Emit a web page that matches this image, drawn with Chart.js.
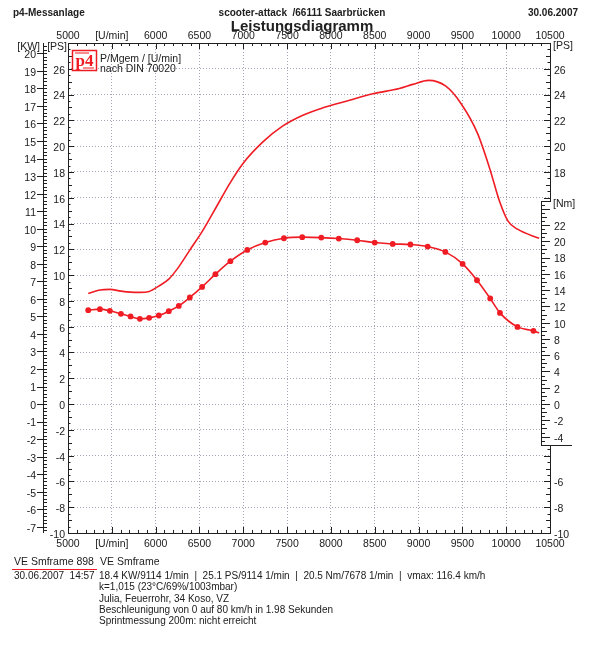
<!DOCTYPE html>
<html>
<head>
<meta charset="utf-8">
<script src="https://cdn.jsdelivr.net/npm/chart.js@4.4.1/dist/chart.umd.min.js"></script>
<style>
  html, body { margin: 0; padding: 0; background: #fff; }
  canvas { display: block; }
</style>
</head>
<body>
<canvas id="chart" width="596" height="656"></canvas>
<script>
// measured run: torque points carry markers, power is a plain line
const torqueRpm = [5231, 5364, 5478, 5604, 5714, 5820, 5926, 6036, 6150, 6264, 6390, 6530, 6682, 6853, 7046, 7251, 7464, 7673, 7890, 8090, 8300, 8500, 8705, 8907, 9104, 9306, 9503, 9667, 9818, 9929, 10129, 10311, 10376];
const torqueNm = [11.53, 11.66, 11.45, 11.08, 10.76, 10.47, 10.59, 10.88, 11.41, 12.06, 13.09, 14.39, 15.95, 17.55, 18.93, 19.84, 20.37, 20.5, 20.45, 20.33, 20.12, 19.84, 19.67, 19.6, 19.35, 18.69, 17.21, 15.21, 12.97, 11.2, 9.48, 8.99, 8.75];

const powerRpm = [5231, 5364, 5478, 5604, 5714, 5820, 5926, 6036, 6150, 6264, 6390, 6541, 6694, 6845, 6997, 7224, 7452, 7680, 7908, 8212, 8477, 8781, 8933, 9114, 9311, 9484, 9673, 9818, 9920, 10021, 10129, 10376];
const powerPs = [8.58, 8.84, 8.89, 8.76, 8.68, 8.66, 8.73, 9.15, 9.69, 10.64, 11.94, 13.49, 15.3, 17.1, 18.66, 20.33, 21.57, 22.4, 22.97, 23.56, 24.06, 24.47, 24.79, 25.1, 24.65, 23.31, 20.99, 18.14, 15.81, 14.19, 13.56, 12.85];

const rpmTickValues = [5000, 5500, 6000, 6500, 7000, 7500, 8000, 8500, 9000, 9500, 10000, 10500];
const rpmTickLabels = ['5000', '[U/min]', '6000', '6500', '7000', '7500', '8000', '8500', '9000', '9500', '10000', '10500'];
const psLeftLabels = [-10, -8, -6, -4, -2, 0, 2, 4, 6, 8, 10, 12, 14, 16, 18, 20, 22, 24, 26];
const psRightLabels = [-10, -8, -6, 18, 20, 22, 24, 26];
const kwLabels = [-7, -6, -5, -4, -3, -2, -1, 0, 1, 2, 3, 4, 5, 6, 7, 8, 9, 10, 11, 12, 13, 14, 15, 16, 17, 18, 19, 20];
const nmLabels = [-4, -2, 0, 2, 4, 6, 8, 10, 12, 14, 16, 18, 20, 22];

const infoLines = [
  '18.4 KW/9114 1/min  |  25.1 PS/9114 1/min  |  20.5 Nm/7678 1/min  |  vmax: 116.4 km/h',
  'k=1,015 (23°C/69%/1003mbar)',
  'Julia, Feuerrohr, 34 Koso, VZ',
  'Beschleunigung von 0 auf 80 km/h in 1.98 Sekunden',
  'Sprintmessung 200m: nicht erreicht'
];

const PS_MIN = -10, PS_MAX = 28;
const PS_PER_KW = 1.36;
const NM_PER_PS = 1.584;  // Nm scale is stretched against the PS scale
const RED = '#f01c24';
const INK = '#202020';
const FONT = 'Arial, "Liberation Sans", sans-serif';

function f(size, bold) {
  return (bold ? 'bold ' : '') + size + 'px ' + FONT;
}

const sn = v => Math.round(v) + 0.5;

const axesPlugin = {
  id: 'axesPlugin',
  afterDatasetsDraw(chart) {
    const ctx = chart.ctx;
    const a = chart.chartArea;
    const x = chart.scales.x, ps = chart.scales.ps, kw = chart.scales.kw, nm = chart.scales.nm;
    const L = Math.round(a.left), R = Math.round(a.right), T = Math.round(a.top), B = Math.round(a.bottom);

    ctx.save();
    ctx.strokeStyle = INK;
    ctx.fillStyle = INK;
    ctx.lineWidth = 1;
    const line = (x1, y1, x2, y2) => {
      ctx.beginPath(); ctx.moveTo(x1, y1); ctx.lineTo(x2, y2); ctx.stroke();
    };
    const text = (s, px, py, align, font, base) => {
      ctx.font = font;
      ctx.textAlign = align;
      ctx.textBaseline = base || 'alphabetic';
      ctx.fillText(s, px, py);
    };

    // frame
    ctx.strokeRect(L + 0.5, T + 0.5, R - L, B - T);

    // rpm ticks top and bottom
    for (let r = 5000; r <= 10500; r += 100) {
      const px = sn(x.getPixelForValue(r));
      const len = r % 500 === 0 ? 6 : 3;
      line(px, T, px, T + len);
      line(px, B, px, B - len);
    }
    rpmTickValues.forEach((v, i) => {
      const px = x.getPixelForValue(v);
      text(rpmTickLabels[i], px, 39, 'center', f(10.5));
      text(rpmTickLabels[i], px, 547, 'center', f(10.5));
    });

    // left PS axis
    for (let i = PS_MIN * 2; i <= PS_MAX * 2; i++) {
      const v = i / 2;
      const py = sn(ps.getPixelForValue(v));
      const len = v % 2 === 0 ? 6 : (Number.isInteger(v) ? 4 : 2.5);
      line(L, py, L + len, py);
    }
    psLeftLabels.forEach(v => {
      text(String(v), L - 3, ps.getPixelForValue(v) + 2, 'right', f(10.5), 'middle');
    });
    text('[PS]', L - 1, 47, 'right', f(10.5), 'middle');

    // KW axis
    const kx = 43;
    line(kx + 0.5, T, kx + 0.5, B);
    for (let i = Math.ceil(kw.min * 5); i <= Math.floor(kw.max * 5); i++) {
      const py = sn(kw.getPixelForValue(i / 5));
      line(kx, py, kx + 4, py);
      if (i % 5 === 0) line(kx - 6, py, kx, py);
    }
    kwLabels.forEach(v => {
      text(String(v), kx - 7, kw.getPixelForValue(v) + 2, 'right', f(10.5), 'middle');
    });
    text('[KW]', 40, 47, 'right', f(10.5), 'middle');

    // right PS axis
    for (let i = PS_MIN * 2; i <= PS_MAX * 2; i++) {
      const v = i / 2;
      const py = sn(ps.getPixelForValue(v));
      const len = v % 2 === 0 ? 6 : (Number.isInteger(v) ? 4 : 2.5);
      line(R, py, R - len, py);
    }
    psRightLabels.forEach(v => {
      text(String(v), R + 4, ps.getPixelForValue(v) + 2, 'left', f(10.5), 'middle');
    });
    text('[PS]', R + 3, 46, 'left', f(10.5), 'middle');

    // Nm axis box
    const nx = R - 9;
    const nTop = Math.round(nm.getPixelForValue(25));
    const nBot = Math.round(nm.getPixelForValue(-5));
    ctx.fillStyle = '#fff';
    ctx.fillRect(nx + 1, nTop, 50, nBot - nTop + 1);
    ctx.fillStyle = INK;
    line(nx + 0.5, nTop, nx + 0.5, nBot + 1);
    line(nx, nTop + 0.5, R + 1, nTop + 0.5);
    line(nx, nBot + 0.5, R + 22, nBot + 0.5);
    for (let i = -10; i <= 50; i++) {
      const v = i / 2;
      const py = sn(nm.getPixelForValue(v));
      const len = v % 2 === 0 ? 9 : (Number.isInteger(v) ? 6 : 4);
      line(nx, py, nx + len, py);
    }
    nmLabels.forEach(v => {
      text(String(v), R + 4, nm.getPixelForValue(v) + 2, 'left', f(10.5), 'middle');
    });
    text('[Nm]', R + 3, nTop + 3, 'left', f(10.5), 'middle');

    // header
    text('p4-Messanlage', 13, 16, 'left', f(10, true));
    text('scooter-attack  /66111 Saarbrücken', 302, 16, 'center', f(10, true));
    text('30.06.2007', 578, 16, 'right', f(10, true));
    text('Leistungsdiagramm', 302, 31, 'center', f(15, true));

    // legend logo
    ctx.strokeStyle = RED;
    ctx.lineWidth = 1.5;
    ctx.fillStyle = '#fff';
    ctx.fillRect(72, 50, 25, 21);
    ctx.strokeRect(72.5, 50.5, 24, 20);
    ctx.fillStyle = RED;
    ctx.fillRect(75, 52.5, 14, 1);
    ctx.fillRect(83, 67.5, 11, 1);
    text('p4', 84.5, 66, 'center', 'bold 17px "Liberation Serif", "Times New Roman", serif');
    ctx.fillStyle = INK;
    text('P/Mgem / [U/min]', 100, 62, 'left', f(10.5));
    text('nach DIN 70020', 100, 72, 'left', f(10.5));

    // footer
    text('VE Smframe 898', 14, 565, 'left', f(10.5));
    ctx.strokeStyle = RED;
    ctx.lineWidth = 1;
    line(12, 569.5, 97, 569.5);
    text('VE Smframe', 100, 565, 'left', f(10.5));
    text('30.06.2007  14:57', 14, 579, 'left', f(10));
    infoLines.forEach((s, i) => text(s, 99, 579 + i * 11.25, 'left', f(10)));

    ctx.restore();
  }
};

const gridStyle = { color: '#a3a6b6', lineWidth: 1, drawTicks: false };

new Chart(document.getElementById('chart'), {
  type: 'line',
  data: {
    datasets: [
      {
        label: 'P [PS]',
        data: powerRpm.map((r, i) => ({ x: r, y: powerPs[i] })),
        xAxisID: 'x',
        yAxisID: 'ps',
        borderColor: RED,
        borderWidth: 1.6,
        pointRadius: 0,
        cubicInterpolationMode: 'monotone'
      },
      {
        label: 'M [Nm]',
        data: torqueRpm.map((r, i) => ({ x: r, y: torqueNm[i] })),
        xAxisID: 'x',
        yAxisID: 'nm',
        borderColor: RED,
        backgroundColor: RED,
        borderWidth: 1.6,
        pointRadius: torqueRpm.map((r, i) => i === torqueRpm.length - 1 ? 0 : 2.9),
        pointBorderWidth: 0,
        cubicInterpolationMode: 'monotone'
      }
    ]
  },
  options: {
    responsive: false,
    animation: false,
    events: [],
    layout: { padding: { left: 68, right: 46, top: 43, bottom: 123 } },
    plugins: { legend: { display: false }, tooltip: { enabled: false } },
    scales: {
      x: {
        type: 'linear', axis: 'x', position: 'bottom', min: 5000, max: 10500,
        ticks: { display: false, stepSize: 500 },
        grid: gridStyle,
        border: { display: false, dash: [1, 2] }
      },
      ps: {
        type: 'linear', axis: 'y', position: 'left', min: PS_MIN, max: PS_MAX,
        ticks: { display: false, stepSize: 2 },
        grid: gridStyle,
        border: { display: false, dash: [1, 2] }
      },
      kw: { type: 'linear', axis: 'y', position: 'left', display: false, min: PS_MIN / PS_PER_KW, max: PS_MAX / PS_PER_KW },
      nm: { type: 'linear', axis: 'y', position: 'right', display: false, min: PS_MIN * NM_PER_PS, max: PS_MAX * NM_PER_PS }
    }
  },
  plugins: [axesPlugin]
});
</script>
</body>
</html>
